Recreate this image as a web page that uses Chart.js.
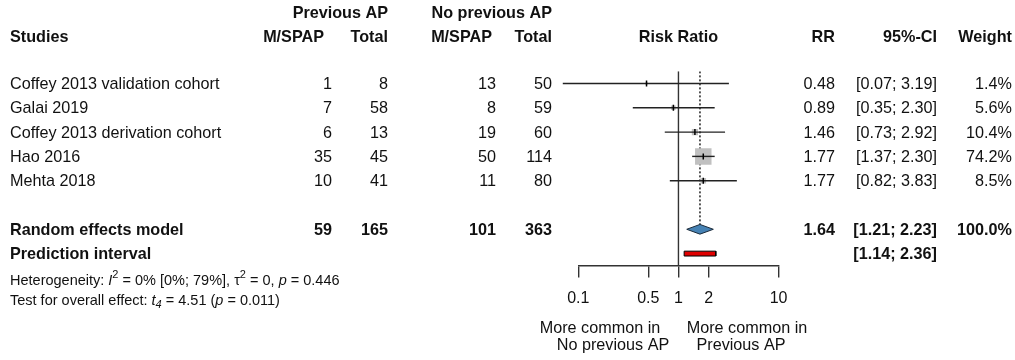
<!DOCTYPE html>
<html>
<head>
<meta charset="utf-8">
<script src="https://cdn.jsdelivr.net/npm/chart.js@4.4.0/dist/chart.umd.min.js"></script>
<style>
  html, body { margin: 0; padding: 0; background: #fff; }
  canvas { display: block; }
</style>
</head>
<body>
<canvas id="forest" width="1015" height="360"></canvas>
<script>
// ---- Study data ----
const studies = [
  'Coffey 2013 validation cohort',
  'Galai 2019',
  'Coffey 2013 derivation cohort',
  'Hao 2016',
  'Mehta 2018'
];
const eventsPrev = [1, 7, 6, 35, 10];
const totalPrev  = [8, 58, 13, 45, 41];
const eventsNo   = [13, 8, 19, 50, 11];
const totalNo    = [50, 59, 60, 114, 80];
const rr         = [0.48, 0.89, 1.46, 1.77, 1.77];
const ciLow      = [0.07, 0.35, 0.73, 1.37, 0.82];
const ciHigh     = [3.19, 2.30, 2.92, 2.30, 3.83];
const weights    = [1.4, 5.6, 10.4, 74.2, 8.5];

// Pooled random effects estimate and prediction interval
const pooled     = [1.64, 1.21, 2.23];   // RR, lower, upper
const pooledWeight = 100.0;
const prediction = [1.14, 2.36];

// Heterogeneity / overall test statistics
const hetI2 = '0%', hetI2ci = '[0%; 79%]', hetTau2 = '0', hetP = '0.446';
const testDf = '4', testT = '4.51', testP = '0.011';

// Axis ticks
const xTicks = [0.1, 0.5, 1, 2, 10];

// ---- Layout helpers ----
const ROW_POOLED = 6;
const ROW_PRED = 7;
const Y_MIN = -0.5, Y_MAX = 7.49;
const DIAMOND_H = 0.2;
const PRED_H = 0.1;
const FONT = '"Liberation Sans", Arial, sans-serif';
const TXT = '#111';

const fmt2 = v => v.toFixed(2);
const ciText = (lo, hi) => '[' + fmt2(lo) + '; ' + fmt2(hi) + ']';
const sum = a => a.reduce((s, v) => s + v, 0);

// Square side proportional to sqrt(weight); Chart.js 'rect' side = radius * sqrt(2)
const maxW = Math.max(...weights);
const squareRadius = weights.map(w => (16.5 * Math.sqrt(w / maxW)) / Math.SQRT2);

const datasets = [];

// Line of no effect (RR = 1)
datasets.push({
  data: [{ x: 1, y: Y_MIN }, { x: 1, y: Y_MAX }],
  showLine: true, borderColor: '#333', borderWidth: 1.4,
  pointRadius: 0, order: 10
});

// Dotted line at pooled estimate
datasets.push({
  data: [{ x: pooled[0], y: Y_MIN }, { x: pooled[0], y: ROW_POOLED - DIAMOND_H }],
  showLine: true, borderColor: '#111', borderWidth: 1.4, borderDash: [2, 2],
  pointRadius: 0, order: 10
});

// Study weight squares
datasets.push({
  data: rr.map((v, i) => ({ x: v, y: i })),
  pointStyle: 'rect', pointRadius: squareRadius,
  backgroundColor: '#c0c0c0', borderWidth: 0, order: 5
});

// Confidence interval lines (may run past the axis limits)
studies.forEach((s, i) => {
  datasets.push({
    data: [{ x: ciLow[i], y: i }, { x: ciHigh[i], y: i }],
    showLine: true, borderColor: '#222', borderWidth: 1.4,
    pointRadius: 0, order: 3, clip: false
  });
});

// Point estimate ticks
datasets.push({
  data: rr.map((v, i) => ({ x: v, y: i })),
  pointStyle: 'line', rotation: 90, pointRadius: 3,
  borderColor: '#000', borderWidth: 1.5, order: 2
});

// Pooled diamond
datasets.push({
  data: [
    { x: pooled[1], y: ROW_POOLED },
    { x: pooled[0], y: ROW_POOLED - DIAMOND_H },
    { x: pooled[2], y: ROW_POOLED },
    { x: pooled[0], y: ROW_POOLED + DIAMOND_H },
    { x: pooled[1], y: ROW_POOLED }
  ],
  showLine: true, fill: 'shape', tension: 0,
  backgroundColor: '#4682b4', borderColor: '#1a2a3a', borderWidth: 1,
  pointRadius: 0, order: 1
});

// Prediction interval bar
datasets.push({
  data: [
    { x: prediction[0], y: ROW_PRED - PRED_H },
    { x: prediction[1], y: ROW_PRED - PRED_H },
    { x: prediction[1], y: ROW_PRED + PRED_H },
    { x: prediction[0], y: ROW_PRED + PRED_H },
    { x: prediction[0], y: ROW_PRED - PRED_H }
  ],
  showLine: true, fill: 'shape', tension: 0,
  backgroundColor: '#e00000', borderColor: '#000', borderWidth: 1,
  pointRadius: 0, order: 1
});

// Draws a run of text pieces (italic / superscript / subscript)
function drawRich(ctx, pieces, x, y, size) {
  let cx = x;
  pieces.forEach(p => {
    const sz = (p.sup || p.sub) ? Math.round(size * 0.75) : size;
    ctx.font = (p.it ? 'italic ' : '') + sz + 'px ' + FONT;
    let dy = 0;
    if (p.sup) dy = -size * 0.4;
    if (p.sub) dy = size * 0.25;
    ctx.fillText(p.t, cx, y + dy);
    cx += ctx.measureText(p.t).width;
  });
}

const tablePlugin = {
  id: 'forestTable',
  afterDraw(chart) {
    const ctx = chart.ctx;
    const ys = chart.scales.y;
    const xs = chart.scales.x;
    const rowY = r => ys.getPixelForValue(r) + 1;
    const put = (text, x, y, align, bold) => {
      ctx.font = (bold ? 'bold ' : '') + '16.2px ' + FONT;
      ctx.textAlign = align;
      ctx.fillText(text, x, y);
    };
    ctx.save();
    ctx.fillStyle = TXT;
    ctx.textBaseline = 'middle';

    // Column headers
    put('Previous AP', 388, 14, 'right', true);
    put('No previous AP', 552, 14, 'right', true);
    put('Studies', 10, 38, 'left', true);
    put('M/SPAP', 324, 38, 'right', true);
    put('Total', 388, 38, 'right', true);
    put('M/SPAP', 492, 38, 'right', true);
    put('Total', 552, 38, 'right', true);
    put('Risk Ratio', xs.getPixelForValue(1), 38, 'center', true);
    put('RR', 835, 38, 'right', true);
    put('95%-CI', 937, 38, 'right', true);
    put('Weight', 1012, 38, 'right', true);

    // Study rows
    studies.forEach((s, i) => {
      const y = rowY(i);
      put(s, 10, y, 'left', false);
      put(String(eventsPrev[i]), 332, y, 'right', false);
      put(String(totalPrev[i]), 388, y, 'right', false);
      put(String(eventsNo[i]), 496, y, 'right', false);
      put(String(totalNo[i]), 552, y, 'right', false);
      put(fmt2(rr[i]), 835, y, 'right', false);
      put(ciText(ciLow[i], ciHigh[i]), 937, y, 'right', false);
      put(weights[i].toFixed(1) + '%', 1012, y, 'right', false);
    });

    // Pooled row
    let y = rowY(ROW_POOLED);
    put('Random effects model', 10, y, 'left', true);
    put(String(sum(eventsPrev)), 332, y, 'right', true);
    put(String(sum(totalPrev)), 388, y, 'right', true);
    put(String(sum(eventsNo)), 496, y, 'right', true);
    put(String(sum(totalNo)), 552, y, 'right', true);
    put(fmt2(pooled[0]), 835, y, 'right', true);
    put(ciText(pooled[1], pooled[2]), 937, y, 'right', true);
    put(pooledWeight.toFixed(1) + '%', 1012, y, 'right', true);

    // Prediction interval row
    y = rowY(ROW_PRED);
    put('Prediction interval', 10, y, 'left', true);
    put(ciText(prediction[0], prediction[1]), 937, y, 'right', true);

    // Heterogeneity and overall effect
    ctx.textAlign = 'left';
    drawRich(ctx, [
      { t: 'Heterogeneity: ' }, { t: 'I', it: true }, { t: '2', sup: true },
      { t: ' = ' + hetI2 + ' ' + hetI2ci + ', ' }, { t: 'τ' }, { t: '2', sup: true },
      { t: ' = ' + hetTau2 + ', ' }, { t: 'p', it: true }, { t: ' = ' + hetP }
    ], 10, 281, 14.5);
    drawRich(ctx, [
      { t: 'Test for overall effect: ' }, { t: 't', it: true }, { t: testDf, sub: true, it: true },
      { t: ' = ' + testT + ' (' }, { t: 'p', it: true }, { t: ' = ' + testP + ')' }
    ], 10, 301, 14.5);

    // Direction labels under the axis
    put('More common in', 600, 329, 'center', false);
    put('No previous AP', 613, 346, 'center', false);
    put('More common in', 747, 329, 'center', false);
    put('Previous AP', 741, 346, 'center', false);

    ctx.restore();
  }
};

new Chart(document.getElementById('forest'), {
  type: 'scatter',
  data: { datasets },
  options: {
    responsive: false,
    animation: false,
    events: [],
    devicePixelRatio: 1,
    layout: { padding: { left: 578.3, right: 236.4, top: 71.35, bottom: 44.5 } },
    plugins: { legend: { display: false }, tooltip: { enabled: false } },
    scales: {
      x: {
        type: 'logarithmic',
        min: 0.1, max: 10,
        afterBuildTicks: s => { s.ticks = xTicks.map(v => ({ value: v })); },
        afterFit: s => { s.height = 50; s.paddingLeft = 0; s.paddingRight = 0; },
        border: { display: true, color: '#333', width: 1.4 },
        grid: { drawOnChartArea: false, drawTicks: true, tickLength: 12, color: '#333', lineWidth: 1.4 },
        ticks: {
          autoSkip: false, maxRotation: 0, padding: 11,
          color: TXT, font: { family: FONT, size: 16 },
          callback: v => String(v)
        }
      },
      y: {
        type: 'linear', reverse: true, min: Y_MIN, max: Y_MAX,
        display: false
      }
    }
  },
  plugins: [tablePlugin]
});
</script>
</body>
</html>
